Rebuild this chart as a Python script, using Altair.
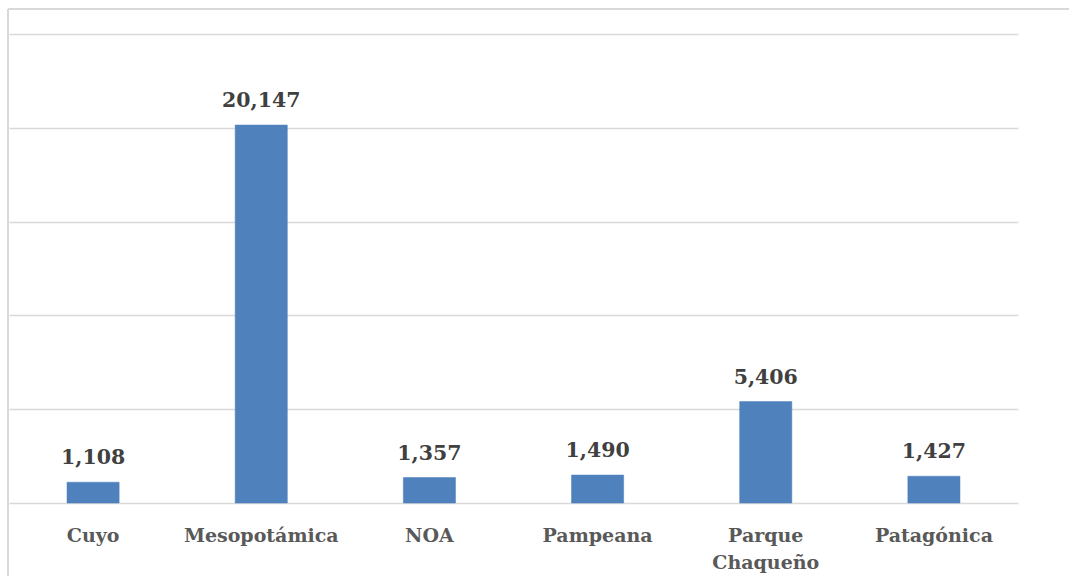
import altair as alt
import pandas as pd

regions = ["Cuyo", "Mesopotámica", "NOA", "Pampeana", "Parque Chaqueño", "Patagónica"]
values = [1108, 20147, 1357, 1490, 5406, 1427]

df = pd.DataFrame({"region": regions, "value": values})

FONT = "DejaVu Serif"
W, H = 1009, 469

x_enc = alt.X(
    "region:N",
    sort=regions,
    title=None,
    scale=alt.Scale(paddingInner=0.69, paddingOuter=0.345),
    axis=alt.Axis(
        labelAngle=0,
        ticks=False,
        domain=False,
        labelPadding=23,
        labelFont=FONT,
        labelFontWeight="bold",
        labelFontSize=19,
        labelColor="#595959",
        labelLineHeight=27,
        labelExpr="datum.label == 'Parque Chaqueño' ? ['Parque', 'Chaqueño'] : datum.label",
    ),
)
y_enc = alt.Y(
    "value:Q",
    title=None,
    scale=alt.Scale(domain=[0, 25000]),
    axis=alt.Axis(
        values=[0, 5000, 10000, 15000, 20000, 25000],
        labels=False,
        ticks=False,
        domain=False,
        grid=True,
        gridColor="#d9d9d9",
        gridWidth=1.5,
    ),
)

base = alt.Chart(df).encode(x=x_enc, y=y_enc)

bars = base.mark_bar(color="#4f81bd", stroke="#4a7ebb", strokeWidth=0.5)

labels = base.mark_text(
    baseline="bottom",
    dy=-14,
    font=FONT,
    fontWeight="bold",
    fontSize=20.5,
    color="#404040",
).encode(text=alt.Text("value:Q", format=",.0f"))

# outer frame: top edge and left edge
frame_top = alt.Chart(df).mark_rule(color="#d9d9d9", strokeWidth=2).encode(
    x=alt.value(-1), x2=alt.value(1060), y=alt.value(-25)
)
frame_left = alt.Chart(df).mark_rule(color="#d9d9d9", strokeWidth=2).encode(
    x=alt.value(-1), y=alt.value(-25), y2=alt.value(545)
)

chart = (
    alt.layer(bars, labels, frame_top, frame_left)
    .properties(
        width=W,
        height=H,
        padding={"left": 9, "top": 34, "right": 51, "bottom": 73},
        autosize=alt.AutoSizeParams(type="none"),
        background="white",
    )
    .configure_view(stroke=None)
)

chart.save("out.html", embed_options={"renderer": "svg", "actions": False})
